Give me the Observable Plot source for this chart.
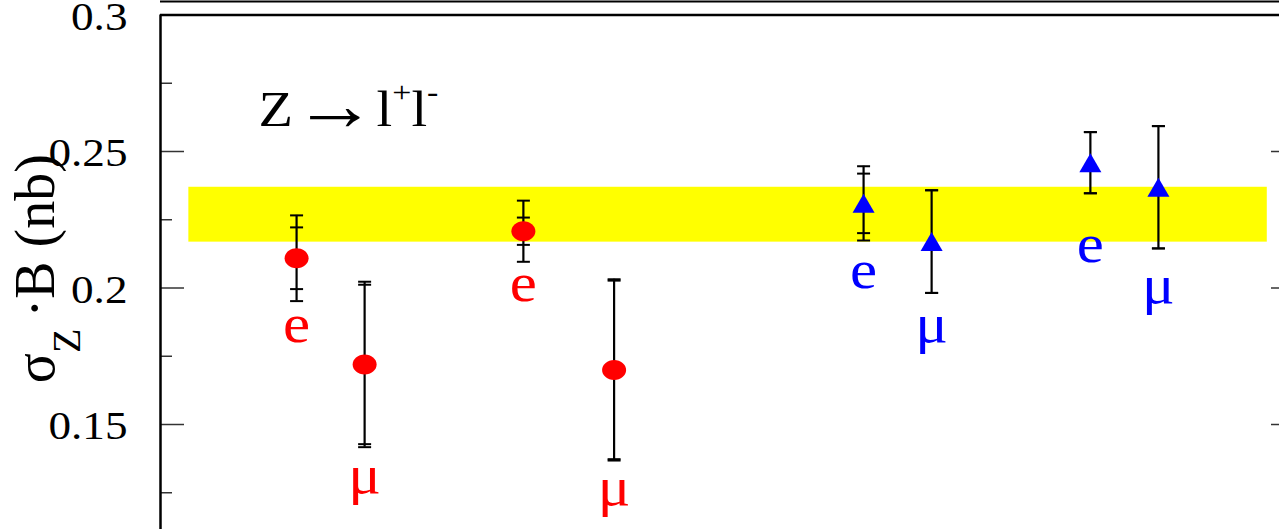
<!DOCTYPE html>
<html>
<head>
<meta charset="utf-8">
<script src="https://cdn.jsdelivr.net/npm/d3@7"></script>
<script src="https://cdn.jsdelivr.net/npm/@observablehq/plot@0.6"></script>
<style>
  html, body { margin: 0; padding: 0; background: #fff; overflow: hidden; }
  #chart { width: 1300px; }
  #chart svg { max-width: none !important; overflow: visible; background: #fff; }
  #chart svg text, #chart svg tspan { font-family: "Liberation Serif", "Times New Roman", Times, serif !important; }
</style>
</head>
<body>
<div id="chart"></div>
<script>
// Z -> l+l- cross section times branching ratio, per channel
const channels = ["e", "μ", "e", "μ", "e", "μ", "e", "μ"];
const slot     = [1.2, 1.8, 3.2, 4.0, 6.2, 6.8, 8.2, 8.8];
const run      = ["I", "I", "I", "I", "II", "II", "II", "II"];
const sigmaB   = [0.2109, 0.1720, 0.2208, 0.1700, 0.2310, 0.2170, 0.2459, 0.2369];
const statErr  = [0.0113, 0.0292, 0.0050, 0.0327, 0.0109, 0.0188, 0.0112, 0.0224];
const totalErr = [0.0157, 0.0303, 0.0112, 0.0332, 0.0136, 0.0188, 0.0112, 0.0224];
// where each channel name is written (nb)
const labelAt  = [0.1864, 0.1311, 0.2014, 0.1267, 0.2065, 0.1864, 0.2160, 0.2010];

// theory band (nb) and its horizontal span
const bandLow = 0.2168, bandHigh = 0.2369;
const bandSpan = [0.25, 9.76];

// axis
const xDomain = [0, 10];
const yDomain = [0.11154, 0.3];
const majorTicks = [0.15, 0.2, 0.25, 0.3];
const majorLabels = ["0.15", "0.2", "0.25", "0.3"];
const minorTicks = [0.125, 0.175, 0.225, 0.275];

const title = "Z → l+l-";
const yLabel = "σZ\u2009·B (nb)";

const runColor = {I: "#ff0000", II: "#0000ff"};

const points = channels.map((c, i) => ({
  channel: c, slot: slot[i], run: run[i], value: sigmaB[i],
  stat: statErr[i], total: totalErr[i], labelAt: labelAt[i]
}));
const caps = points.flatMap(p => [
  {slot: p.slot, y: p.value + p.total}, {slot: p.slot, y: p.value - p.total},
  {slot: p.slot, y: p.value + p.stat},  {slot: p.slot, y: p.value - p.stat}
]);
const runI = points.filter(p => p.run === "I");
const runII = points.filter(p => p.run === "II");

// marker shapes
const capSymbol = {draw(ctx) { ctx.moveTo(-6.5, 0); ctx.lineTo(6.5, 0); }};
const ovalSymbol = {draw(ctx, size) {
  const r = Math.sqrt(size / Math.PI), rx = r * 1.2, ry = r, k = 0.5523;
  ctx.moveTo(rx, 0);
  ctx.bezierCurveTo(rx, ry * k, rx * k, ry, 0, ry);
  ctx.bezierCurveTo(-rx * k, ry, -rx, ry * k, -rx, 0);
  ctx.bezierCurveTo(-rx, -ry * k, -rx * k, -ry, 0, -ry);
  ctx.bezierCurveTo(rx * k, -ry, rx, -ry * k, rx, 0);
  ctx.closePath();
}};
const triangleSymbol = {draw(ctx, size) {
  const r = Math.sqrt(size / Math.PI), w = r * 1.16;
  ctx.moveTo(0, -r); ctx.lineTo(w, r); ctx.lineTo(-w, r); ctx.closePath();
}};

const serif = "Liberation Serif";
const tickColor = "#333";
const glyphStretch = 1.13; // wide lettering

const chart = Plot.plot({
  width: 1300,
  height: 529,
  marginLeft: 160,
  marginRight: 6,
  marginTop: 14.5,
  marginBottom: 0,
  x: {domain: xDomain, axis: null},
  y: {domain: yDomain},
  marks: [
    // combined band
    Plot.rect([{x1: bandSpan[0], x2: bandSpan[1], y1: bandLow, y2: bandHigh}],
      {x1: "x1", x2: "x2", y1: "y1", y2: "y2", fill: "#ffff00"}),

    // inward ticks on the left and right edges
    Plot.axisY(majorTicks, {anchor: "right", frameAnchor: "left", tickSize: 23, tickFormat: () => "", stroke: tickColor, strokeWidth: 1.5, label: null}),
    Plot.axisY(minorTicks, {anchor: "right", frameAnchor: "left", tickSize: 11, tickFormat: () => "", stroke: tickColor, strokeWidth: 1.5, label: null}),
    Plot.axisY(majorTicks, {anchor: "left", frameAnchor: "right", tickSize: 23, tickFormat: () => "", stroke: tickColor, strokeWidth: 1.5, label: null}),
    Plot.axisY(minorTicks, {anchor: "left", frameAnchor: "right", tickSize: 11, tickFormat: () => "", stroke: tickColor, strokeWidth: 1.5, label: null}),
    // tick labels
    Plot.axisY(majorTicks, {anchor: "left", tickSize: 0, tickPadding: 33, fontSize: 40, fontFamily: serif, dy: 2,
      tickFormat: d => majorLabels[majorTicks.indexOf(d)], label: null}),

    // frame
    Plot.ruleX([xDomain[0]], {stroke: "black", strokeWidth: 2.5}),
    Plot.ruleX([xDomain[1]], {stroke: "black", strokeWidth: 2.5}),
    Plot.ruleY([yDomain[1]], {stroke: "black", strokeWidth: 2.5}),
    Plot.ruleY([yDomain[1]], {stroke: "black", strokeWidth: 2, dy: -13.5}),

    // error bars
    Plot.ruleX(points, {x: "slot", y1: d => d.value - d.total, y2: d => d.value + d.total, stroke: "black", strokeWidth: 2.2}),
    Plot.dot(caps, {x: "slot", y: "y", symbol: capSymbol, r: 5, fill: "none", stroke: "black", strokeWidth: 2}),

    // measurements
    Plot.dot(runI, {x: "slot", y: "value", symbol: ovalSymbol, r: 10, fill: runColor.I}),
    Plot.dot(runII, {x: "slot", y: "value", symbol: triangleSymbol, r: 9.5, fill: runColor.II}),

    // channel names
    Plot.text(runI, {x: "slot", y: "labelAt", text: "channel", fill: runColor.I, fontSize: 54, fontFamily: serif, lineAnchor: "middle"}),
    Plot.text(runII, {x: "slot", y: "labelAt", text: "channel", fill: runColor.II, fontSize: 54, fontFamily: serif, lineAnchor: "middle"}),

    // process title and axis label
    Plot.text([title], {frameAnchor: "top-left", textAnchor: "start", lineAnchor: "middle", dx: 98, dy: 94.5, fontSize: 50, fontFamily: serif, fill: "black"}),
    Plot.text([yLabel], {frameAnchor: "left", rotate: -90, textAnchor: "start", lineAnchor: "middle", dx: -124, dy: 111, fontSize: 56, fontFamily: serif, fill: "black"})
  ]
});

document.getElementById("chart").appendChild(chart);

// superscripts and subscripts
function richText(svg, plain, parts) {
  for (const t of svg.querySelectorAll("text")) {
    if (t.textContent !== plain) continue;
    t.textContent = "";
    for (const p of parts) {
      const s = document.createElementNS("http://www.w3.org/2000/svg", "tspan");
      s.textContent = p.text;
      if (p.size) s.setAttribute("font-size", p.size);
      if (p.dy) s.setAttribute("dy", p.dy);
      t.appendChild(s);
    }
  }
}
richText(chart, title, [
  {text: "Z"},
  {text: "→", size: 74, dy: 4},
  {text: "l", size: 50, dy: -4},
  {text: "+", size: 30, dy: -24},
  {text: "l", size: 50, dy: 24},
  {text: "-", size: 30, dy: -24}
]);
richText(chart, yLabel, [
  {text: "σ"},
  {text: "Z", size: 40, dy: 26},
  {text: "\u2009·B (nb)", size: 56, dy: -26}
]);

// widen the upright lettering about its anchor point
for (const t of chart.querySelectorAll("text")) {
  const tr = t.getAttribute("transform") || "";
  if (!t.textContent || tr.includes("rotate")) continue;
  t.setAttribute("transform", `${tr} scale(${glyphStretch},1)`);
}
</script>
</body>
</html>
